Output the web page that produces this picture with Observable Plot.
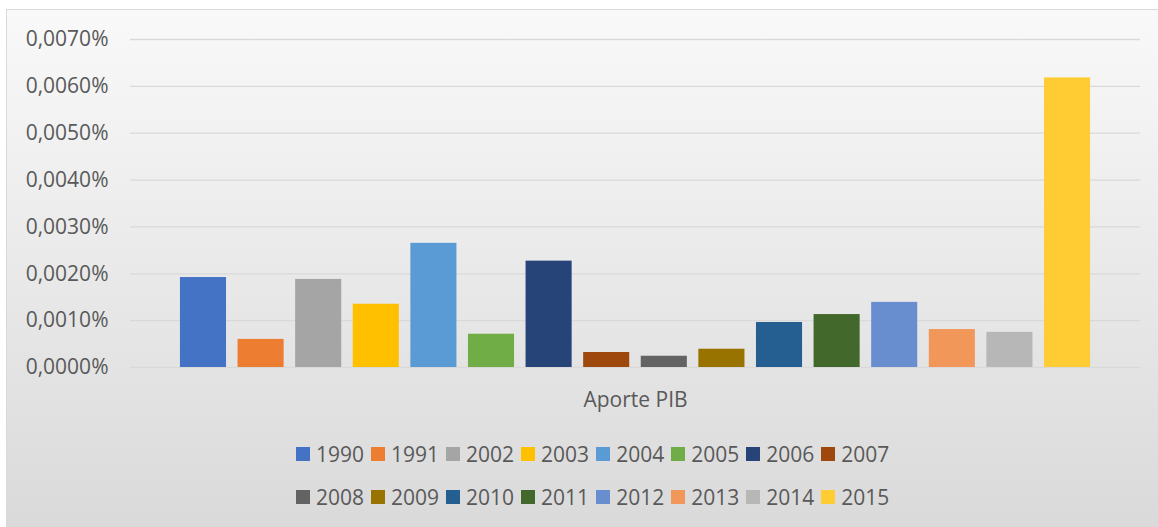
<!DOCTYPE html>
<html>
<head>
<meta charset="utf-8">
<script src="https://cdn.jsdelivr.net/npm/d3@7"></script>
<script src="https://cdn.jsdelivr.net/npm/@observablehq/plot@0.6"></script>
<style>
  html, body { margin: 0; padding: 0; background: #ffffff; width: 1158px; height: 527px; overflow: hidden; }
  #frame {
    position: absolute; left: 6px; top: 9px; width: 1180px; height: 530px;
    box-sizing: border-box; border: 1.5px solid #d9d9d9;
    background: linear-gradient(to bottom, #f9f9f9 0%, #d9d9d9 100%);
  }
  #chart { position: absolute; left: 0; top: 0; }
  #legend { position: absolute; left: 296px; top: 432px; font-family: "Open Sans", sans-serif; font-size: 21px; color: #595959; }
  .row { display: flex; height: 43px; align-items: center; }
  .item { display: flex; align-items: center; margin-right: 7px; }
  .sw { width: 14px; height: 14px; margin-right: 6px; }
</style>
</head>
<body>
<div id="frame"></div>
<div id="chart"></div>
<div id="legend"></div>
<script>
const category = "Aporte PIB";
const years = ["1990","1991","2002","2003","2004","2005","2006","2007","2008","2009","2010","2011","2012","2013","2014","2015"];
const values = [0.00192, 0.00060, 0.00188, 0.00135, 0.00265, 0.00071, 0.00227, 0.00032, 0.00024, 0.00039, 0.00096, 0.00113, 0.00139, 0.00081, 0.00075, 0.00618];
const colors = ["#4472C4","#ED7D31","#A5A5A5","#FFC000","#5B9BD5","#70AD47","#264478","#9E480E","#636363","#997300","#255E91","#43682B","#698ED0","#F1975A","#B7B7B7","#FFCD33"];
const yTicks = [0, 0.001, 0.002, 0.003, 0.004, 0.005, 0.006, 0.007];

const data = years.map((y, i) => ({year: y, value: values[i], cat: category}));
const fmt = v => d3.format(".4f")(v).replace(".", ",") + "%";

const chart = Plot.plot({
  width: 1158,
  height: 420,
  marginLeft: 130,
  marginRight: 18,
  marginTop: 39,
  marginBottom: 53,
  style: {fontFamily: "Open Sans, sans-serif", fontSize: "21px", color: "#595959", background: "transparent", overflow: "visible"},
  fx: {domain: [category], padding: 0, round: false, label: null},
  x: {domain: years, paddingInner: 0.2, paddingOuter: 0.867, round: false, axis: null},
  y: {domain: [0, 0.007], label: null},
  color: {domain: years, range: colors},
  marks: [
    Plot.gridY(yTicks, {stroke: "#d9d9d9", strokeOpacity: 1, strokeWidth: 1.3}),
    Plot.axisY(yTicks, {tickFormat: fmt, tickSize: 0, tickPadding: 22, label: null, fill: "#595959"}),
    Plot.axisFx({anchor: "bottom", tickSize: 0, tickPadding: 25, label: null, fill: "#595959"}),
    Plot.barY(data, {fx: "cat", x: "year", y: "value", fill: "year"})
  ]
});
document.getElementById("chart").appendChild(chart);

const legend = document.getElementById("legend");
[years.slice(0, 8), years.slice(8)].forEach(rowYears => {
  const row = document.createElement("div");
  row.className = "row";
  rowYears.forEach(y => {
    const item = document.createElement("div");
    item.className = "item";
    const sw = document.createElement("div");
    sw.className = "sw";
    sw.style.background = colors[years.indexOf(y)];
    const t = document.createElement("span");
    t.textContent = y;
    item.appendChild(sw);
    item.appendChild(t);
    row.appendChild(item);
  });
  legend.appendChild(row);
});
</script>
</body>
</html>
